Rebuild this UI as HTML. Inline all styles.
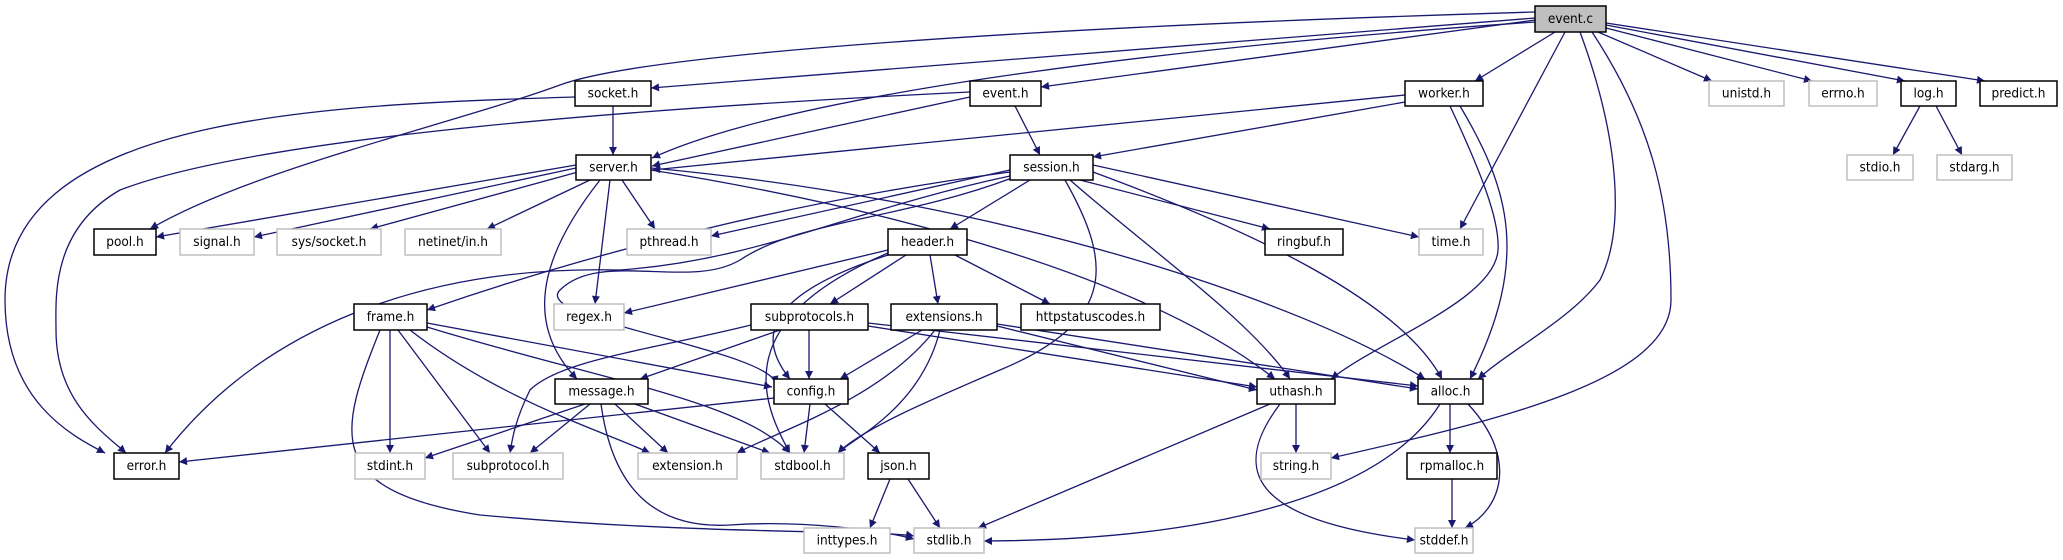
<!DOCTYPE html>
<html><head><meta charset="utf-8"><style>
html,body{margin:0;padding:0;background:#fff;}
svg{display:block;}
text{font-family:"DejaVu Sans Condensed","DejaVu Sans","Liberation Sans",sans-serif;font-stretch:condensed;font-size:13.5px;fill:#000;text-anchor:middle;dominant-baseline:central;}
.e{fill:none;stroke:#191970;stroke-width:1.3;marker-end:url(#a);}
.b{fill:#fff;stroke:#000;stroke-width:1.5;}
.g{fill:#fff;stroke:#bfbfbf;stroke-width:1.5;}
</style></head><body>
<svg width="2063" height="560" viewBox="0 0 2063 560" xmlns="http://www.w3.org/2000/svg">
<defs><marker id="a" viewBox="0 0 10 10" refX="10" refY="5" markerWidth="11" markerHeight="8" markerUnits="userSpaceOnUse" orient="auto"><path d="M0,0 L10,5 L0,10 z" fill="#191970"/></marker></defs>
<g>
<!-- event.c -->
<path class="e" d="M1535,18 L651,88"/>
<path class="e" d="M1535,20 L1041,87"/>
<path class="e" d="M1535,22 C1200,45 800,90 652,158"/>
<path class="e" d="M1535,12 C1000,28 640,55 560,85 C450,125 250,170 150,229"/>
<path class="e" d="M1555,32 L1475,81"/>
<path class="e" d="M1565,32 L1460,229"/>
<path class="e" d="M1580,32 C1620,140 1625,230 1600,280 C1570,320 1510,350 1478,379"/>
<path class="e" d="M1592,32 C1650,120 1671,200 1671,300 C1671,380 1500,420 1331,458"/>
<path class="e" d="M1598,32 L1712,81"/>
<path class="e" d="M1606,28 L1812,81"/>
<path class="e" d="M1606,25 L1905,81"/>
<path class="e" d="M1606,23 L1985,81"/>
<path class="e" d="M1920,106 L1893,155"/>
<path class="e" d="M1936,106 L1962,155"/>
<!-- socket.h -->
<path class="e" d="M613,106 L613,155"/>
<path class="e" d="M575,97 C300,105 5,120 5,300 C5,400 70,435 105,453"/>
<!-- event.h -->
<path class="e" d="M970,97 L652,166"/>
<path class="e" d="M1015,106 L1040,155"/>
<path class="e" d="M970,92 C600,110 250,140 120,190 C50,230 56,300 56,330 C56,400 100,430 126,453"/>
<!-- worker.h -->
<path class="e" d="M1405,95 L652,170"/>
<path class="e" d="M1405,102 L1093,157"/>
<path class="e" d="M1450,106 C1480,170 1500,220 1498,250 C1495,300 1380,340 1331,379"/>
<path class="e" d="M1460,106 C1510,190 1530,260 1470,379"/>
<!-- server.h -->
<path class="e" d="M576,165 L156,237"/>
<path class="e" d="M576,168 L254,237"/>
<path class="e" d="M578,172 L370,229"/>
<path class="e" d="M590,180 L487,229"/>
<path class="e" d="M622,180 L655,229"/>
<path class="e" d="M610,180 L595,304"/>
<path class="e" d="M600,180 C545,250 520,320 577,379"/>
<path class="e" d="M651,170 C900,210 1150,280 1275,379"/>
<path class="e" d="M651,168 C1000,200 1300,300 1425,379"/>
<!-- session.h -->
<path class="e" d="M1030,180 L950,229"/>
<path class="e" d="M1010,170 L711,236"/>
<path class="e" d="M1010,172 C800,200 600,250 427,310"/>
<path class="e" d="M1010,176 C850,210 760,260 620,270 C420,265 260,330 165,453"/>
<path class="e" d="M1012,178 C900,220 800,220 740,260 C690,290 600,250 560,290 C530,320 770,350 776,384"/>
<path class="e" d="M1080,180 L1270,229"/>
<path class="e" d="M1093,165 L1419,237"/>
<path class="e" d="M1070,180 C1150,250 1250,320 1290,379"/>
<path class="e" d="M1093,172 C1250,230 1400,300 1442,379"/>
<path class="e" d="M1065,180 C1110,260 1120,320 1000,370 C930,400 860,430 838,453"/>
<!-- header.h -->
<path class="e" d="M906,255 L830,304"/>
<path class="e" d="M930,255 L938,304"/>
<path class="e" d="M955,255 L1050,304"/>
<path class="e" d="M888,250 L624,313"/>
<path class="e" d="M888,255 C780,290 750,330 790,379"/>
<path class="e" d="M888,253 C730,320 760,400 790,453"/>
<!-- frame.h -->
<path class="e" d="M427,323 L772,387"/>
<path class="e" d="M427,327 C600,380 740,400 790,453"/>
<path class="e" d="M390,330 L390,453"/>
<path class="e" d="M398,330 L490,453"/>
<path class="e" d="M410,330 C500,400 600,430 650,453"/>
<path class="e" d="M380,330 C340,430 320,490 480,515 C700,535 880,530 914,536"/>
<!-- subprotocols.h -->
<path class="e" d="M809,330 L809,379"/>
<path class="e" d="M780,330 L640,379"/>
<path class="e" d="M751,325 C650,350 560,360 530,390 C515,420 512,440 510,453"/>
<path class="e" d="M868,326 L1257,387"/>
<path class="e" d="M868,323 L1418,386"/>
<!-- extensions.h -->
<path class="e" d="M922,330 L840,379"/>
<path class="e" d="M935,330 C880,400 780,430 737,453"/>
<path class="e" d="M940,330 C920,410 850,440 838,453"/>
<path class="e" d="M997,326 L1257,390"/>
<path class="e" d="M997,324 L1418,389"/>
<!-- message.h -->
<path class="e" d="M585,404 L425,458"/>
<path class="e" d="M590,404 L530,453"/>
<path class="e" d="M615,404 L668,453"/>
<path class="e" d="M635,404 L770,453"/>
<path class="e" d="M601,404 C610,470 640,530 730,525 C800,520 880,530 914,539"/>
<!-- config.h -->
<path class="e" d="M774,398 L179,462"/>
<path class="e" d="M810,404 L804,453"/>
<path class="e" d="M825,404 L880,453"/>
<!-- json.h -->
<path class="e" d="M890,479 L870,528"/>
<path class="e" d="M908,479 L940,528"/>
<!-- uthash.h -->
<path class="e" d="M1296,404 L1296,453"/>
<path class="e" d="M1270,404 L978,528"/>
<path class="e" d="M1280,404 C1230,470 1250,520 1415,540"/>
<!-- alloc.h -->
<path class="e" d="M1450,404 L1450,453"/>
<path class="e" d="M1440,404 C1380,500 1200,540 984,541"/>
<path class="e" d="M1468,404 C1520,460 1500,510 1465,528"/>
<path class="e" d="M1452,479 L1452,528"/>
</g>
<g>
<rect x="1535" y="6" width="71" height="26" fill="#bfbfbf" stroke="#000" stroke-width="1.5"/><text x="1570.5" y="19">event.c</text>
<rect class="b" x="575" y="81" width="76" height="25"/><text x="613" y="93.5">socket.h</text>
<rect class="b" x="970" y="81" width="71" height="25"/><text x="1005.5" y="93.5">event.h</text>
<rect class="b" x="1405" y="81" width="78" height="25"/><text x="1444" y="93.5">worker.h</text>
<rect class="g" x="1709" y="81" width="75" height="25"/><text x="1746.5" y="93.5" fill="#000">unistd.h</text>
<rect class="g" x="1809" y="81" width="68" height="25"/><text x="1843" y="93.5">errno.h</text>
<rect class="b" x="1901" y="81" width="55" height="25"/><text x="1928.5" y="93.5">log.h</text>
<rect class="b" x="1980" y="81" width="77" height="25"/><text x="2018.5" y="93.5">predict.h</text>
<rect class="b" x="576" y="155" width="75" height="25"/><text x="613.5" y="167.5">server.h</text>
<rect class="b" x="1010" y="155" width="83" height="25"/><text x="1051.5" y="167.5">session.h</text>
<rect class="g" x="1847" y="155" width="66" height="25"/><text x="1880" y="167.5">stdio.h</text>
<rect class="g" x="1937" y="155" width="75" height="25"/><text x="1974.5" y="167.5">stdarg.h</text>
<rect class="b" x="94" y="229" width="62" height="26"/><text x="125" y="242">pool.h</text>
<rect class="g" x="180" y="229" width="74" height="26"/><text x="217" y="242">signal.h</text>
<rect class="g" x="277" y="229" width="104" height="26"/><text x="329" y="242">sys/socket.h</text>
<rect class="g" x="405" y="229" width="96" height="26"/><text x="453" y="242">netinet/in.h</text>
<rect class="g" x="627" y="229" width="84" height="26"/><text x="669" y="242">pthread.h</text>
<rect class="b" x="888" y="229" width="79" height="26"/><text x="927.5" y="242">header.h</text>
<rect class="b" x="1265" y="229" width="78" height="26"/><text x="1304" y="242">ringbuf.h</text>
<rect class="g" x="1419" y="229" width="64" height="26"/><text x="1451" y="242">time.h</text>
<rect class="b" x="354" y="304" width="73" height="26"/><text x="390.5" y="317">frame.h</text>
<rect class="g" x="554" y="304" width="70" height="26"/><text x="589" y="317">regex.h</text>
<rect class="b" x="751" y="304" width="117" height="26"/><text x="809.5" y="317">subprotocols.h</text>
<rect class="b" x="891" y="304" width="106" height="26"/><text x="944" y="317">extensions.h</text>
<rect class="b" x="1021" y="304" width="139" height="26"/><text x="1090.5" y="317">httpstatuscodes.h</text>
<rect class="b" x="555" y="379" width="93" height="25"/><text x="601.5" y="391.5">message.h</text>
<rect class="b" x="774" y="379" width="74" height="25"/><text x="811" y="391.5">config.h</text>
<rect class="b" x="1257" y="379" width="78" height="25"/><text x="1296" y="391.5">uthash.h</text>
<rect class="b" x="1418" y="379" width="65" height="25"/><text x="1450.5" y="391.5">alloc.h</text>
<rect class="b" x="114" y="453" width="65" height="26"/><text x="146.5" y="466">error.h</text>
<rect class="g" x="355" y="453" width="70" height="26"/><text x="390" y="466">stdint.h</text>
<rect class="g" x="453" y="453" width="110" height="26"/><text x="508" y="466">subprotocol.h</text>
<rect class="g" x="638" y="453" width="99" height="26"/><text x="687.5" y="466">extension.h</text>
<rect class="g" x="761" y="453" width="83" height="26"/><text x="802.5" y="466">stdbool.h</text>
<rect class="b" x="868" y="453" width="61" height="26"/><text x="898.5" y="466">json.h</text>
<rect class="g" x="1261" y="453" width="70" height="26"/><text x="1296" y="466">string.h</text>
<rect class="b" x="1407" y="453" width="90" height="26"/><text x="1452" y="466">rpmalloc.h</text>
<rect class="g" x="804" y="528" width="86" height="25"/><text x="847" y="540.5">inttypes.h</text>
<rect class="g" x="914" y="528" width="70" height="25"/><text x="949" y="540.5">stdlib.h</text>
<rect class="g" x="1415" y="528" width="58" height="25"/><text x="1444" y="540.5">stddef.h</text>
</g>
</svg>
</body></html>
